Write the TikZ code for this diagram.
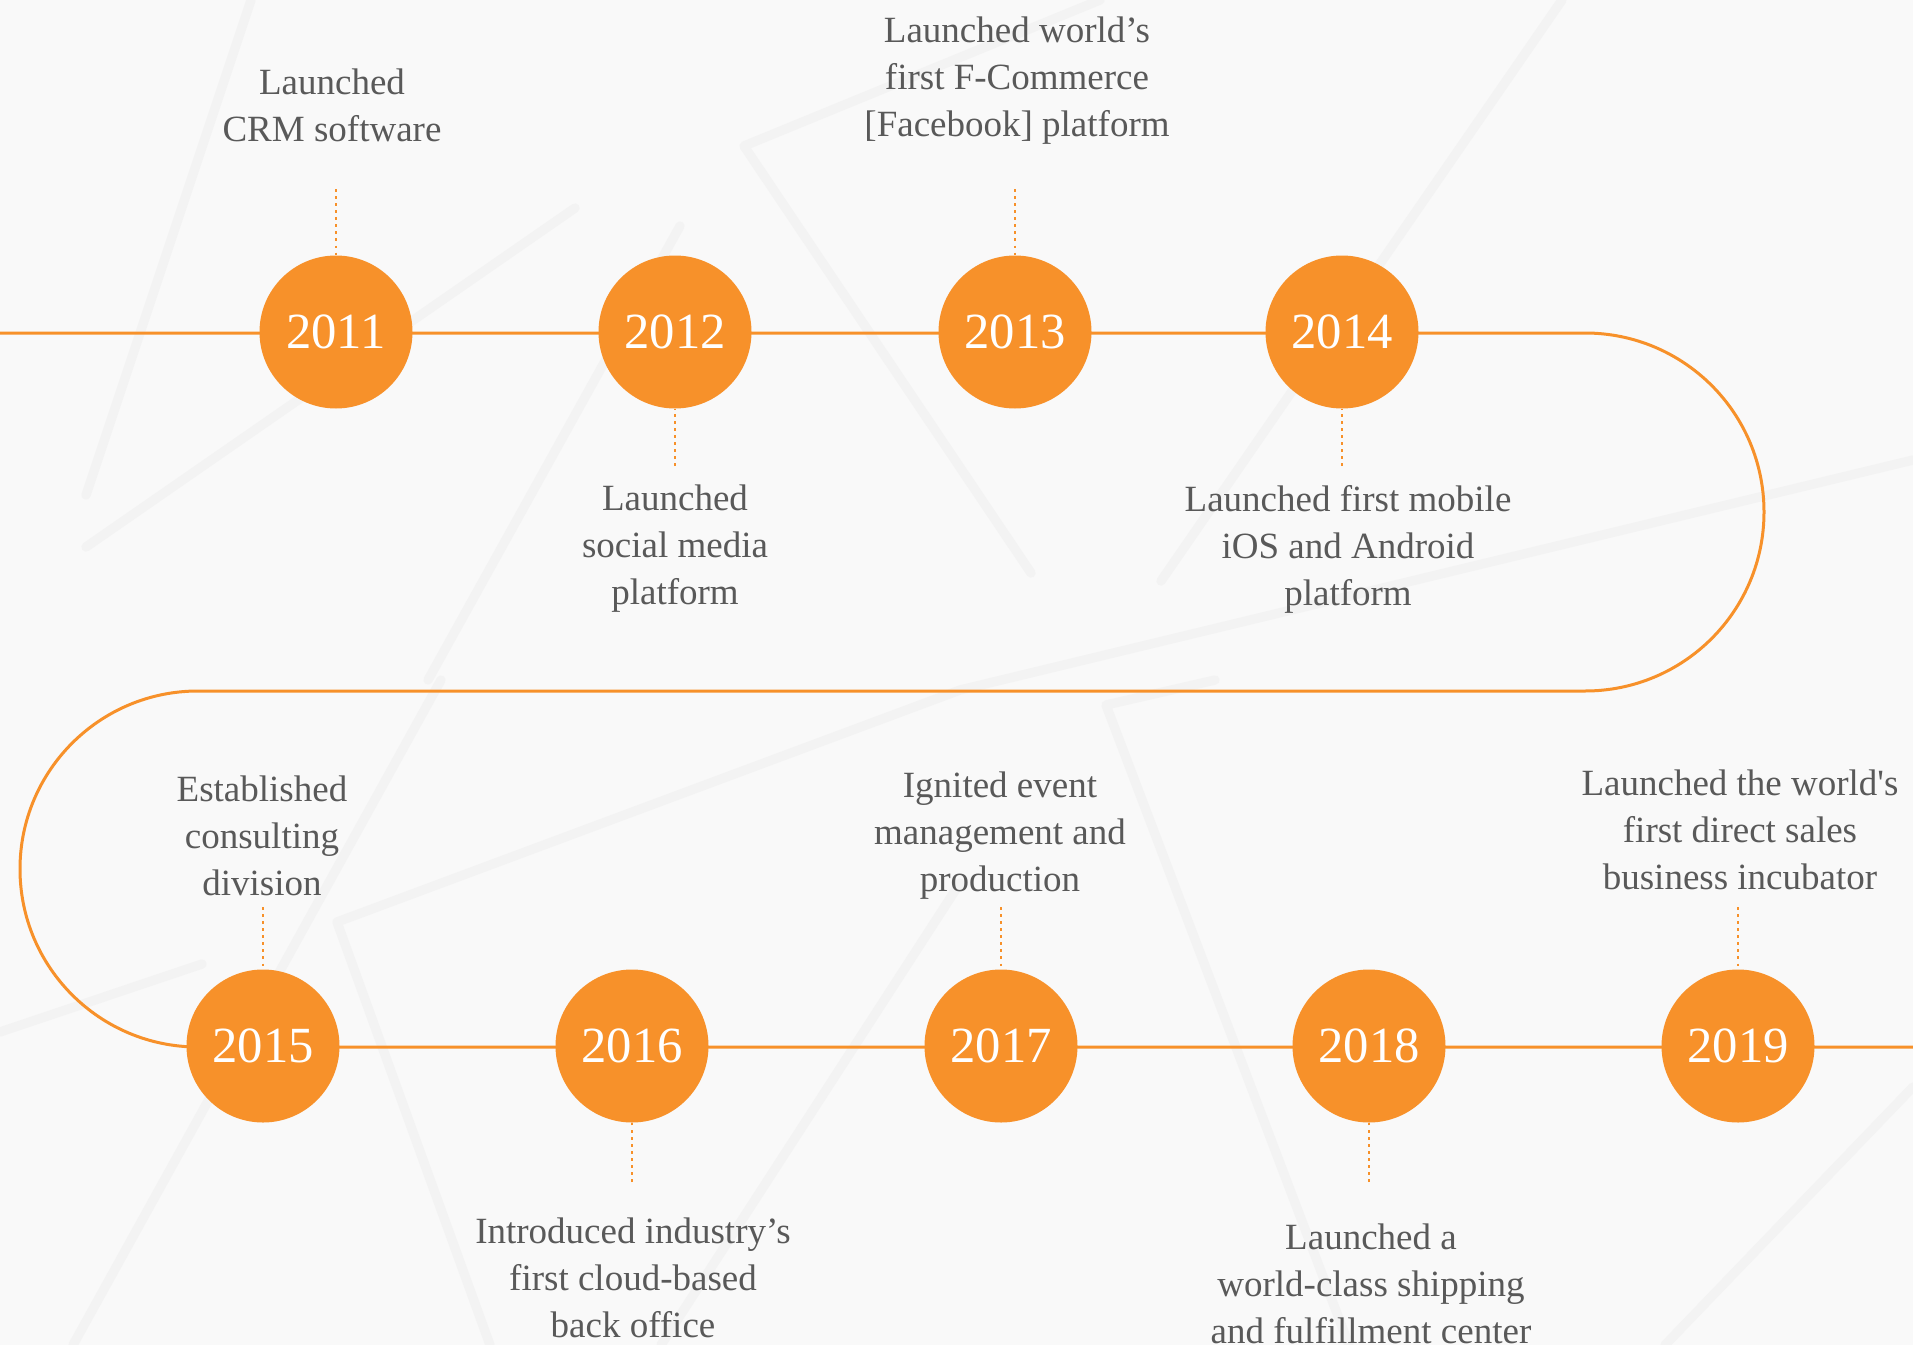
\documentclass[tikz,border=0pt]{standalone}
\usepackage{fontspec}
\setmainfont{Liberation Serif}
\definecolor{tlorange}{HTML}{F7912A}
\definecolor{txtgray}{HTML}{595959}
\definecolor{bgcol}{HTML}{F9F9F9}
\definecolor{bgline}{HTML}{F3F3F3}
\begin{document}
\begin{tikzpicture}[x=0.75pt,y=-0.75pt,
  yearnode/.style={circle, fill=tlorange, minimum size=114.75pt, inner sep=0pt,
    text=white, font=\fontsize{38}{38}\selectfont},
  desc/.style={align=center, text=txtgray, inner sep=0pt,
    font=\fontsize{27.75}{35.25}\selectfont},
  track/.style={draw=tlorange, line width=2.25pt},
  dots/.style={draw=tlorange, line width=1.9pt, dash pattern=on 1.9pt off 3.4pt},
  bgstroke/.style={draw=bgline, line width=7pt, line cap=round, line join=round}]
\fill[bgcol] (0,0) rectangle (1913,1345);
\useasboundingbox (0,0) rectangle (1913,1345);
% faint background strokes
\draw[bgstroke] (251,0) -- (86,495);
\draw[bgstroke] (1100,0) -- (744,146) -- (1031,573);
\draw[bgstroke] (680,226) -- (428,680);
\draw[bgstroke] (575,208) -- (86,547);
\draw[bgstroke] (1562,0) -- (1161,581);
\draw[bgstroke] (1913,460) -- (960,690) -- (337,922) -- (490,1345);
\draw[bgstroke] (441,680) -- (73,1345);
\draw[bgstroke] (960,883) -- (661,1345);
\draw[bgstroke] (0,1032) -- (202,964);
\draw[bgstroke] (1215,680) -- (1106,705) -- (1349,1345);
\draw[bgstroke] (1913,1087) -- (1665,1345);
% track
\draw[track] (0,333) -- (1585,333)
  .. controls (1683.9,333) and (1764,413.1) .. (1764,512)
  .. controls (1764,610.9) and (1683.9,691) .. (1585,691)
  -- (198,691)
  .. controls (99.7,691) and (20,770.7) .. (20,869)
  .. controls (20,967.3) and (99.7,1047) .. (198,1047)
  -- (1913,1047);
% year circles
\node[yearnode] (y11) at (336,332) {2011};
\node[yearnode] (y12) at (675,332) {2012};
\node[yearnode] (y13) at (1015,332) {2013};
\node[yearnode] (y14) at (1342,332) {2014};
\node[yearnode] (y15) at (263,1046) {2015};
\node[yearnode] (y16) at (632,1046) {2016};
\node[yearnode] (y17) at (1001,1046) {2017};
\node[yearnode] (y18) at (1369,1046) {2018};
\node[yearnode] (y19) at (1738,1046) {2019};
% dotted connector ends
\coordinate (d11) at (336,189);
\coordinate (d12) at (675,466);
\coordinate (d13) at (1015,189);
\coordinate (d14) at (1342,466);
\coordinate (d15) at (263,907);
\coordinate (d16) at (632,1182);
\coordinate (d17) at (1001,907);
\coordinate (d18) at (1369,1182);
\coordinate (d19) at (1738,907);
\draw[dots] (d11) -- (y11.north);
\draw[dots] (d12) -- (y12.south);
\draw[dots] (d13) -- (y13.north);
\draw[dots] (d14) -- (y14.south);
\draw[dots] (d15) -- (y15.north);
\draw[dots] (d16) -- (y16.south);
\draw[dots] (d17) -- (y17.north);
\draw[dots] (d18) -- (y18.south);
\draw[dots] (d19) -- (y19.north);
% descriptions
\node[desc] (t11) at (332,105) {Launched\\CRM software};
\node[desc] (t13) at (1017,81) {Launched world’s\\first F-Commerce\\{[Facebook]} platform};
\node[desc] (t12) at (675,549) {Launched\\social media\\platform};
\node[desc] (t14) at (1348,549) {Launched first mobile\\iOS and Android\\platform};
\node[desc] (t15) at (262,836) {Established\\consulting\\division};
\node[desc] (t17) at (1000,836) {Ignited event\\management and\\production};
\node[desc] (t19) at (1740,830) {Launched the world\textquotesingle s\\first direct sales\\business incubator};
\node[desc] (t16) at (633,1278) {Introduced industry’s\\first cloud-based\\back office};
\node[desc] (t18) at (1371,1284) {Launched a\\world-class shipping\\and fulfillment center};
\end{tikzpicture}
\end{document}
